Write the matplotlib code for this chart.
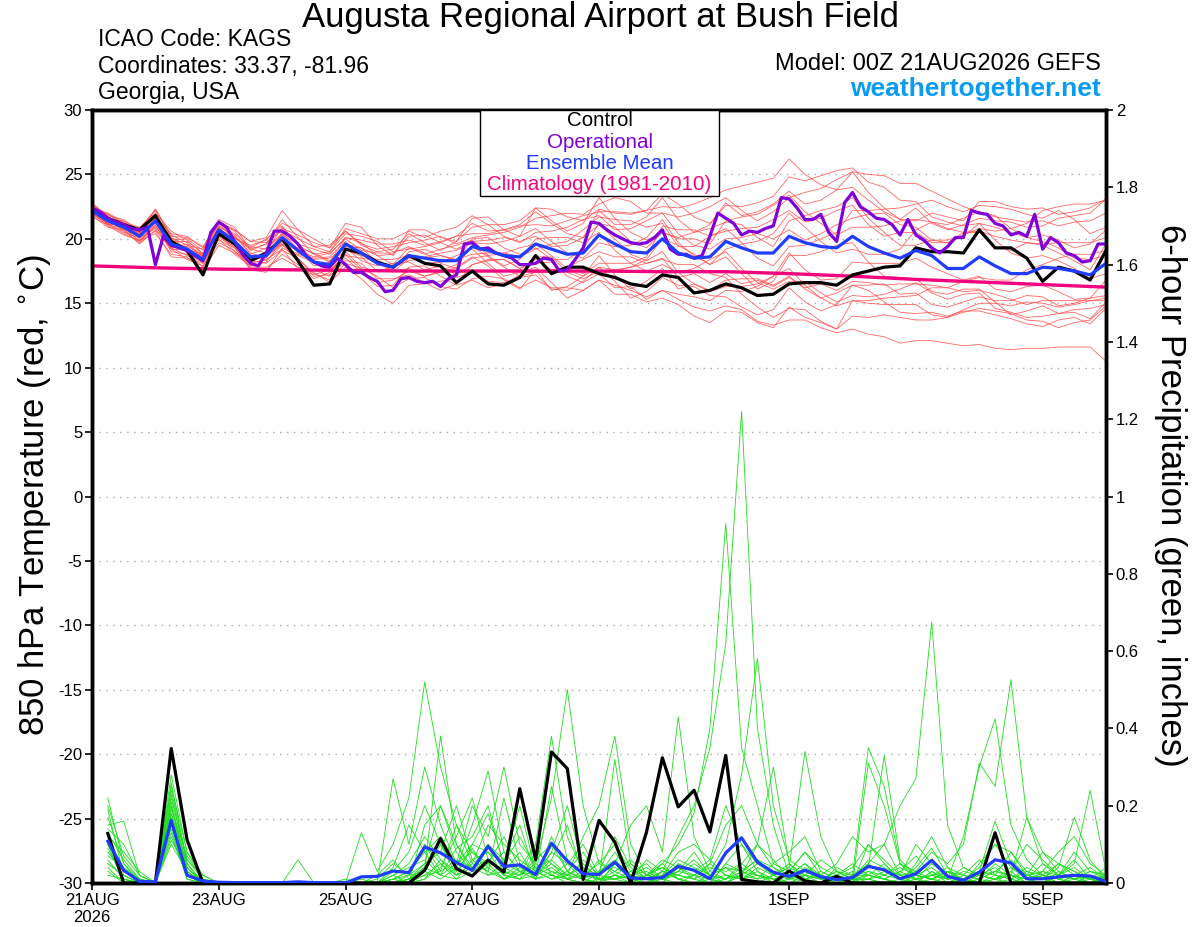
import matplotlib
matplotlib.use("Agg")
import matplotlib.pyplot as plt
from matplotlib.patches import Rectangle
from matplotlib.ticker import FormatStrFormatter
import numpy as np

plt.rcParams['font.family'] = ['Liberation Sans', 'DejaVu Sans']
plt.rcParams['axes.unicode_minus'] = False

# x axis (days after 00Z 21AUG2026)
tick_days = [0, 2, 4, 6, 8, 11, 13, 15]
tick_labels = ["21AUG\n2026", "23AUG", "25AUG", "27AUG", "29AUG", "1SEP", "3SEP", "5SEP"]

# 850 hPa temperature, 6-hourly from 00Z
ctrl_t = [22.3, 21.6, 21.1, 20.7, 21.8, 19.8, 19.1, 17.2, 20.4, 19.6, 18.3, 18.9, 20.0, 18.3, 16.4, 16.5, 19.2, 18.9, 18.2, 17.8, 18.7, 18.1,
          17.9, 16.6, 17.5, 16.5, 16.4, 17.0, 18.7, 17.3, 17.8, 17.8, 17.3, 17.0, 16.5, 16.3, 17.2, 17.0, 15.8, 16.0, 16.5, 16.2, 15.6,
          15.7, 16.5, 16.6, 16.6, 16.4, 17.2, 17.5, 17.8, 17.9, 19.3, 19.0, 19.0, 18.9, 20.7, 19.3, 19.3, 18.5, 16.7, 17.8, 17.5, 16.8, 19.1]
mean_t = [22.2, 21.4, 20.9, 20.2, 21.4, 19.6, 19.2, 18.4, 20.7, 19.8, 18.6, 18.7, 20.1, 19.1, 18.2, 18.0, 19.6, 18.9, 18.1, 17.8,
          18.7, 18.5, 18.3, 18.3, 19.4, 19.1, 18.7, 18.6, 19.6, 19.2, 18.8, 18.9, 20.3, 19.6, 19.0, 18.9, 20.0, 18.9, 18.5, 18.6,
          19.8, 19.3, 18.9, 18.9, 20.2, 19.7, 19.4, 19.3, 20.2, 19.4, 18.9, 18.5, 19.1, 18.7, 17.7, 17.7, 18.6, 17.9, 17.3, 17.3,
          17.8, 17.7, 17.5, 17.2, 18.1]
# operational run, 3-hourly
oper_t = [22.4, 22.1, 21.6, 21.3, 21.1, 20.8, 20.7, 20.9, 18.0, 20.2,
          19.5, 19.3, 19.1, 18.7, 18.3, 20.5, 21.3, 20.9, 19.8, 18.8,
          18.1, 17.9, 18.9, 20.6, 20.6, 20.2, 19.6, 18.7, 18.2, 17.9,
          17.8, 18.5, 18.0, 17.4, 17.4, 17.0, 16.7, 15.9, 16.0, 16.9,
          17.0, 16.7, 16.6, 16.7, 16.3, 16.9, 17.2, 19.6, 19.7, 19.2,
          19.3, 18.9, 18.7, 18.5, 18.0, 18.0, 18.1, 18.5, 18.4, 17.5,
          17.6, 18.4, 19.3, 21.3, 21.2, 20.7, 20.3, 20.0, 19.7, 19.6,
          19.7, 20.1, 20.7, 19.2, 18.8, 18.8, 18.5, 18.7, 20.2, 22.0,
          21.6, 21.2, 20.3, 20.6, 20.5, 20.8, 21.0, 23.2, 23.1, 22.4,
          21.5, 21.5, 21.9, 20.5, 19.8, 22.8, 23.6, 22.5, 22.1, 21.6,
          21.5, 21.1, 20.3, 21.5, 20.3, 19.9, 19.3, 18.9, 19.4, 20.1,
          20.1, 22.2, 22.0, 21.9, 21.2, 21.0, 20.3, 20.5, 20.2, 21.9,
          19.2, 20.1, 19.7, 18.9, 18.7, 18.2, 18.3, 19.6, 19.6]
# climatology, daily
clim_t = [17.9, 17.75, 17.65, 17.6, 17.55, 17.5, 17.5, 17.5, 17.5, 17.45, 17.45, 17.3, 17.1, 16.85, 16.65, 16.45, 16.25]

t_m01 = [22.4, 21.7, 21.0, 20.5, 21.9, 19.8, 19.2, 18.8, 21.0, 20.4, 19.4, 19.2, 20.3, 19.6, 19.2, 18.8, 20.1, 19.9, 19.6, 19.6, 19.9, 19.5, 19.8, 20.2, 20.4, 20.4, 20.7, 21.0, 21.1, 21.0, 21.4, 21.8, 22.1, 22.1, 22.0, 22.2, 22.5, 22.4, 22.7, 23.2, 23.8, 24.1, 24.4, 24.7, 26.2, 25.0, 24.2, 23.8, 24.0, 23.0, 22.1, 21.5, 21.5, 21.3, 20.8, 20.5, 20.6, 20.2, 19.9, 19.7, 19.6, 19.7, 19.7, 19.7, 20.1]
t_m02 = [21.9, 21.2, 20.5, 20.1, 20.8, 19.3, 18.7, 18.2, 19.9, 19.3, 18.3, 18.1, 19.1, 18.5, 17.3, 16.8, 18.1, 17.7, 17.1, 16.2, 16.9, 17.0, 16.3, 16.1, 16.9, 17.1, 16.9, 16.2, 16.8, 16.2, 16.2, 16.0, 16.8, 16.4, 16.0, 15.5, 16.0, 15.3, 14.7, 14.4, 14.8, 14.5, 13.6, 13.3, 13.7, 13.7, 13.1, 12.7, 13.0, 12.6, 12.4, 11.9, 12.1, 12.1, 11.9, 11.7, 11.8, 11.5, 11.4, 11.5, 11.5, 11.6, 11.6, 11.6, 10.5]
t_m03 = [22.6, 21.9, 21.2, 20.8, 22.2, 20.2, 20.1, 19.4, 21.3, 20.7, 19.8, 19.7, 20.8, 20.3, 19.7, 19.3, 20.6, 19.5, 19.0, 19.2, 20.4, 19.7, 19.1, 19.8, 21.6, 21.7, 20.7, 20.2, 22.4, 21.4, 20.6, 21.2, 23.2, 21.6, 20.5, 19.9, 20.5, 20.1, 20.5, 21.1, 22.8, 21.8, 22.1, 22.7, 23.7, 22.7, 23.0, 23.8, 25.2, 23.6, 22.4, 21.5, 22.4, 21.2, 20.7, 21.1, 21.6, 21.4, 21.3, 20.9, 21.0, 21.6, 21.8, 22.0, 23.1]
t_m04 = [22.1, 21.4, 20.7, 19.9, 21.0, 19.5, 19.4, 18.1, 20.2, 19.6, 18.7, 18.3, 19.5, 18.8, 18.4, 18.5, 19.3, 18.3, 17.9, 18.1, 18.2, 17.6, 17.9, 17.2, 18.0, 18.3, 18.4, 17.7, 18.4, 17.6, 17.8, 18.4, 19.0, 18.6, 18.6, 18.1, 18.5, 17.0, 17.3, 16.6, 17.3, 16.5, 16.8, 16.3, 17.0, 16.2, 16.5, 16.0, 16.7, 16.6, 16.4, 16.5, 16.5, 16.4, 16.2, 15.9, 16.0, 15.7, 15.3, 14.9, 15.2, 15.2, 15.2, 15.2, 15.4]
t_m05 = [22.5, 21.5, 21.4, 20.4, 22.3, 20.1, 19.5, 19.2, 21.1, 20.0, 19.5, 19.9, 21.2, 20.7, 20.0, 19.3, 21.2, 20.9, 19.5, 18.7, 20.7, 20.7, 20.1, 19.8, 20.9, 21.1, 21.1, 21.4, 22.4, 22.3, 21.7, 21.4, 22.3, 22.0, 21.9, 22.2, 23.5, 22.7, 21.7, 21.2, 22.6, 22.5, 22.8, 23.3, 24.8, 24.5, 24.9, 25.3, 25.5, 24.4, 24.0, 23.0, 22.9, 21.7, 21.3, 21.0, 21.2, 19.9, 18.9, 18.5, 18.7, 18.3, 17.7, 16.9, 17.3]
t_m06 = [21.8, 20.9, 20.7, 19.6, 20.7, 19.2, 18.4, 17.9, 19.7, 19.1, 17.7, 17.6, 18.8, 18.0, 17.4, 16.6, 17.8, 16.9, 15.7, 15.0, 16.4, 16.5, 16.7, 17.0, 17.4, 16.7, 16.6, 17.0, 17.2, 16.1, 16.0, 16.7, 17.8, 17.6, 17.8, 18.1, 18.4, 18.0, 18.0, 17.3, 17.0, 15.7, 14.7, 13.9, 14.6, 14.5, 13.6, 13.0, 14.0, 13.9, 14.1, 13.9, 13.7, 13.7, 13.9, 14.3, 14.6, 14.4, 14.2, 13.7, 13.6, 13.1, 13.5, 13.7, 14.8]
t_m07 = [22.2, 21.6, 20.8, 20.2, 21.6, 19.3, 19.6, 18.5, 20.9, 20.3, 18.9, 18.5, 20.5, 19.2, 17.9, 18.2, 20.1, 19.7, 18.7, 18.0, 19.3, 18.8, 19.2, 19.5, 19.9, 18.7, 17.9, 18.4, 20.0, 20.1, 20.1, 19.7, 20.5, 19.1, 18.1, 18.6, 21.0, 20.7, 20.7, 20.2, 20.6, 20.8, 20.9, 21.5, 22.2, 21.3, 21.6, 22.2, 22.6, 21.1, 20.2, 20.5, 20.5, 19.7, 19.7, 20.2, 21.2, 20.9, 20.5, 20.1, 20.3, 19.9, 19.3, 19.6, 20.7]
t_m08 = [22.3, 21.1, 21.1, 20.0, 21.2, 20.0, 18.9, 17.8, 20.4, 19.0, 18.2, 18.7, 19.6, 18.2, 16.9, 17.4, 18.7, 18.5, 18.3, 17.5, 17.7, 17.1, 17.4, 17.8, 18.6, 17.9, 16.8, 16.1, 17.6, 16.0, 16.3, 17.1, 18.7, 17.2, 16.1, 16.7, 17.7, 16.1, 16.5, 15.9, 16.3, 16.3, 16.5, 17.1, 17.7, 16.4, 15.4, 14.8, 15.2, 15.0, 14.9, 14.9, 14.9, 14.1, 13.9, 14.5, 15.0, 15.0, 14.8, 15.1, 15.0, 14.7, 14.9, 15.2, 15.2]
t_m09 = [22.7, 21.8, 21.5, 20.6, 21.7, 20.4, 20.2, 19.3, 21.3, 20.1, 19.3, 20.0, 21.0, 19.5, 18.8, 19.0, 20.8, 20.4, 20.0, 20.0, 20.6, 20.1, 20.6, 20.9, 21.8, 21.1, 20.2, 19.7, 20.5, 20.6, 20.9, 21.5, 21.8, 20.7, 20.8, 21.4, 22.0, 21.7, 22.0, 22.5, 23.2, 22.2, 21.4, 22.1, 23.2, 23.6, 23.9, 24.6, 25.2, 25.0, 24.9, 24.3, 24.3, 23.7, 23.1, 22.5, 22.1, 21.7, 21.5, 21.3, 21.4, 21.0, 21.3, 21.4, 22.0]
t_m10 = [22.0, 21.0, 20.3, 19.9, 20.4, 18.8, 18.6, 17.5, 19.5, 18.9, 18.1, 18.4, 19.2, 17.7, 17.2, 17.6, 18.5, 17.4, 16.3, 16.4, 17.8, 17.9, 17.1, 16.4, 16.8, 16.2, 16.5, 17.2, 18.6, 18.6, 17.4, 16.9, 17.5, 17.5, 17.8, 18.4, 20.0, 19.5, 18.8, 18.0, 18.6, 17.3, 16.1, 16.7, 18.7, 18.7, 19.0, 19.5, 19.7, 18.2, 17.1, 17.0, 16.9, 15.9, 15.7, 16.1, 16.1, 15.1, 14.1, 14.4, 14.8, 14.2, 14.5, 14.6, 14.9]
t_m11 = [22.4, 22.0, 21.3, 20.9, 22.0, 20.6, 19.9, 18.8, 21.5, 20.9, 19.2, 19.6, 20.7, 20.0, 19.4, 19.5, 20.6, 19.6, 19.2, 19.4, 19.7, 19.9, 20.2, 19.6, 20.1, 20.3, 20.5, 20.9, 21.6, 21.8, 22.0, 21.9, 22.7, 23.2, 22.9, 22.0, 22.0, 20.4, 19.5, 19.2, 20.0, 20.1, 20.4, 20.0, 20.7, 19.9, 20.4, 21.1, 21.6, 21.9, 22.0, 21.1, 20.9, 19.9, 19.7, 20.5, 20.5, 19.4, 19.1, 19.7, 19.5, 18.9, 18.3, 17.6, 19.6]
t_m12 = [21.7, 21.1, 20.4, 19.8, 21.1, 19.0, 18.8, 18.3, 20.0, 18.8, 17.9, 18.2, 19.9, 18.5, 17.1, 17.2, 19.1, 18.7, 18.4, 18.4, 18.7, 18.1, 18.2, 18.7, 19.2, 18.1, 17.1, 17.4, 17.8, 16.6, 15.4, 16.0, 16.8, 15.7, 15.7, 15.1, 15.4, 14.9, 14.0, 13.5, 14.4, 14.3, 13.5, 13.1, 14.7, 13.9, 13.5, 13.0, 15.2, 15.2, 15.4, 15.5, 15.6, 16.2, 16.2, 16.7, 17.0, 16.8, 16.8, 17.6, 18.0, 18.5, 18.8, 18.8, 19.1]
t_m13 = [22.3, 21.5, 21.2, 20.3, 21.5, 19.7, 19.0, 18.7, 20.7, 20.2, 18.8, 19.3, 20.4, 18.9, 18.5, 18.6, 19.8, 18.6, 17.5, 17.6, 19.0, 19.2, 18.7, 18.3, 20.0, 20.1, 19.3, 18.8, 19.3, 18.4, 18.4, 19.2, 21.2, 20.9, 19.8, 19.3, 20.5, 20.0, 20.0, 19.6, 21.4, 21.7, 21.9, 22.6, 23.4, 22.1, 21.2, 20.3, 20.9, 20.9, 21.0, 21.4, 21.4, 22.0, 21.7, 21.4, 22.9, 22.9, 22.5, 22.3, 22.4, 21.9, 22.1, 22.4, 23.1]
t_m14 = [22.0, 21.3, 20.9, 19.8, 20.9, 19.6, 19.4, 18.8, 20.3, 19.3, 17.8, 17.8, 18.5, 17.8, 17.6, 17.1, 18.3, 18.1, 16.9, 16.9, 17.2, 16.6, 16.0, 16.5, 18.0, 18.4, 18.4, 17.7, 18.1, 18.2, 17.1, 16.6, 17.3, 16.2, 16.3, 15.3, 16.0, 15.7, 15.5, 15.2, 16.0, 15.9, 16.3, 17.1, 18.9, 17.6, 16.8, 16.9, 18.2, 18.1, 18.1, 18.1, 18.5, 17.8, 17.3, 16.8, 17.1, 16.1, 15.9, 16.3, 16.4, 15.9, 15.3, 15.4, 15.6]
t_m15 = [22.8, 21.7, 21.1, 20.7, 22.3, 20.3, 19.7, 18.6, 21.3, 20.7, 19.8, 20.1, 22.2, 20.7, 19.4, 19.0, 20.4, 20.2, 19.8, 19.0, 19.2, 19.4, 19.7, 20.2, 21.2, 20.6, 20.7, 21.1, 22.1, 21.2, 20.4, 20.1, 21.1, 20.0, 18.8, 18.3, 19.0, 17.4, 16.5, 16.0, 16.8, 16.9, 16.9, 16.4, 17.1, 16.1, 15.4, 15.8, 16.4, 16.4, 16.5, 15.7, 15.8, 14.9, 14.7, 15.1, 15.5, 15.2, 15.2, 15.6, 15.5, 14.8, 15.0, 15.4, 16.8]
t_m16 = [22.1, 21.2, 21.0, 20.4, 21.7, 20.1, 19.2, 18.2, 20.9, 19.8, 18.4, 19.0, 20.9, 19.6, 18.3, 17.7, 19.6, 19.3, 18.2, 17.4, 18.5, 18.6, 18.9, 19.1, 19.7, 19.6, 19.8, 20.2, 20.8, 19.8, 18.9, 18.5, 19.7, 19.4, 19.5, 20.1, 21.5, 19.7, 18.7, 18.0, 19.2, 19.6, 19.8, 20.4, 22.0, 20.9, 19.8, 18.9, 19.2, 18.8, 18.8, 19.2, 20.7, 21.3, 21.1, 21.6, 22.1, 21.8, 20.8, 20.1, 19.8, 19.3, 18.5, 18.4, 18.7]
t_m17 = [22.5, 21.9, 21.2, 20.3, 21.3, 19.2, 19.1, 18.7, 20.5, 20.1, 19.2, 18.9, 19.7, 19.3, 18.9, 18.3, 19.0, 17.8, 17.5, 17.8, 18.3, 18.5, 18.7, 18.4, 18.8, 18.9, 18.9, 19.3, 19.6, 18.7, 17.7, 17.3, 18.1, 18.1, 18.1, 17.5, 18.0, 17.4, 17.7, 18.4, 19.0, 17.7, 16.6, 16.1, 16.7, 16.7, 15.8, 15.1, 15.6, 15.5, 15.7, 16.1, 16.6, 15.8, 15.3, 15.7, 15.8, 14.6, 14.3, 13.9, 14.0, 14.2, 14.3, 13.8, 15.1]
t_m18 = [21.9, 21.4, 21.1, 20.5, 21.8, 19.8, 19.8, 18.9, 20.8, 19.6, 18.7, 18.6, 19.6, 19.1, 18.6, 18.9, 20.0, 19.1, 18.9, 18.9, 19.4, 18.9, 18.1, 17.7, 18.5, 18.7, 18.9, 18.6, 19.2, 19.6, 19.8, 20.7, 21.7, 21.5, 21.4, 20.9, 21.2, 19.4, 19.4, 20.2, 20.8, 19.7, 18.5, 17.9, 19.4, 19.5, 20.0, 20.5, 22.2, 22.2, 22.3, 22.4, 22.7, 23.0, 22.5, 22.1, 22.6, 22.5, 22.3, 21.9, 21.6, 22.2, 21.5, 20.4, 20.9]
t_m19 = [22.6, 21.5, 20.6, 19.7, 20.6, 18.6, 18.5, 18.1, 20.1, 19.4, 17.6, 17.4, 19.3, 18.7, 18.2, 17.5, 18.8, 17.6, 16.6, 16.8, 17.5, 17.1, 17.5, 18.0, 19.4, 18.6, 17.8, 17.1, 17.4, 17.4, 17.6, 17.1, 17.8, 16.7, 15.4, 15.9, 17.0, 16.4, 16.3, 15.6, 15.5, 14.7, 14.1, 14.5, 16.2, 15.1, 14.4, 14.9, 16.4, 16.0, 15.1, 14.3, 14.2, 14.3, 14.0, 14.4, 14.4, 14.1, 13.8, 13.4, 13.2, 13.7, 13.9, 13.4, 14.6]
t_m20 = [22.2, 21.1, 20.8, 20.6, 21.6, 19.9, 20.0, 19.1, 21.2, 20.6, 19.1, 19.6, 21.5, 20.1, 18.8, 18.2, 19.4, 19.3, 18.7, 18.8, 20.2, 20.3, 19.7, 19.2, 19.8, 19.9, 20.1, 19.8, 20.2, 19.4, 19.5, 20.1, 22.2, 21.1, 21.1, 21.7, 23.2, 21.5, 20.5, 20.8, 21.3, 21.1, 20.1, 19.4, 21.4, 21.8, 22.2, 22.5, 23.2, 21.6, 20.5, 19.5, 19.5, 19.9, 19.9, 20.3, 20.8, 20.6, 20.8, 21.2, 22.2, 22.5, 22.7, 22.7, 23.0]
members_t = [t_m01, t_m02, t_m03, t_m04, t_m05, t_m06, t_m07, t_m08, t_m09, t_m10,
             t_m11, t_m12, t_m13, t_m14, t_m15, t_m16, t_m17, t_m18, t_m19, t_m20]

# 6-hour precipitation (inches), valid 06Z 21AUG onward
ctrl_p = [.128, 0, 0, 0, .348, .112, 0, 0, 0, 0, 0, 0, 0, 0, 0, 0,
          0, 0, 0, 0, .033, .115, .037, .018, .059, .028, .244, .060, .339, .296, .009, .162,
          .106, 0, .132, .324, .197, .240, .132, .330, .009, .003, 0, .031, .005, 0, .017, 0,
          0, 0, 0, 0, 0, 0, 0, 0, .130, 0, 0, 0, 0, 0, 0, 0]
mean_p = [.108, .033, .004, .003, .162, .020, .005, .002, .001, .001, .001, .001, .003, .001, .001, 0,
          .016, .017, .031, .027, .093, .078, .053, .033, .095, .043, .047, .022, .103, .057, .024, .022,
          .054, .013, .011, .014, .043, .033, .011, .078, .117, .054, .028, .017, .033, .016, .009, .014,
          .043, .034, .011, .024, .059, .017, .007, .028, .060, .052, .011, .011, .016, .020, .018, .004]

p_m01 = [.22, .05, 0, 0, .18, .03, 0, 0, 0, 0, 0, 0, 0, 0, 0, 0, 0, 0, .02, .05, .12, .06, .02, .10, .18, .05, .03, .01, .08, .20, .04, 0, .05, .01, 0, .03, .12, .20, .35, .62, 1.22, .40, .15, .02, .05, .01, 0, .02, .05, .10, .02, 0, .03, 0, 0, .01, .05, .02, 0, 0, .03, .01, 0, 0]
p_m02 = [.15, .16, .02, 0, .25, .08, .01, 0, 0, 0, 0, 0, 0, 0, 0, 0, 0, 0, 0, .01, .05, .20, .08, .03, .10, .06, .15, .02, .05, .01, 0, .03, .12, .04, .01, .05, .10, .18, .40, .93, .35, .20, .05, .08, .12, .03, .01, 0, .10, .05, .01, .04, .09, .02, 0, .05, .10, .04, .01, 0, .02, .06, .01, 0]
p_m03 = [.19, .02, 0, 0, .20, .04, 0, 0, 0, 0, 0, 0, .06, 0, 0, 0, .13, .03, .10, .22, .52, .30, .15, .05, .03, .01, .04, .10, .02, 0, 0, .01, 0, 0, .02, .04, .01, 0, 0, .05, .10, .03, 0, .01, .04, .02, 0, 0, .31, .20, .05, .01, 0, .02, .01, 0, 0, .01, .03, .02, 0, 0, .01, 0]
p_m04 = [.12, .08, .03, 0, .22, .06, .02, 0, 0, 0, 0, 0, 0, 0, 0, 0, 0, 0, .01, .03, .08, .12, .05, .20, .12, .30, .10, .05, .22, .50, .20, .05, .10, .03, .01, 0, .04, .02, 0, .01, .03, .06, .02, 0, .02, 0, .01, 0, .03, .01, 0, .05, .12, .04, 0, 0, .02, .08, .03, .01, 0, .02, .04, .01]
p_m05 = [.10, 0, 0, 0, .15, .02, 0, 0, 0, 0, 0, 0, 0, 0, 0, 0, 0, 0, 0, 0, .02, .05, .01, .06, .08, .02, .05, .01, .12, .03, .01, .03, .06, .02, 0, .01, .03, .08, .02, 0, .02, .10, .06, .01, .03, .02, .05, .12, .08, .10, .20, .27, .675, .15, .04, .02, .01, .03, 0, .02, .05, .03, .01, 0]
p_m06 = [.08, .03, .01, 0, .18, .05, 0, 0, 0, 0, 0, 0, 0, 0, 0, 0, 0, .01, .05, .02, .10, .03, .15, .08, .05, .12, .04, .02, .08, .05, .01, 0, .02, 0, 0, .03, .02, .01, .05, .02, .01, .04, .02, .05, .01, 0, .02, .04, .10, .06, .02, .03, .08, .05, .10, .31, .25, .526, .17, .05, .02, .01, .03, .02]
p_m07 = [.06, .01, 0, 0, .12, .02, 0, 0, 0, 0, 0, 0, 0, 0, 0, 0, .01, 0, .03, .08, .20, .10, .04, .15, .29, .08, .03, .01, .02, .05, .10, .02, .01, .03, .05, .01, 0, .02, .04, .03, .05, .02, 0, .03, .08, .04, .02, 0, .02, .01, 0, .02, .04, .01, .12, .30, .425, .15, .06, .02, .01, 0, .02, 0]
p_m08 = [.04, 0, 0, 0, .24, .06, .01, 0, 0, 0, 0, 0, 0, 0, 0, 0, 0, 0, .02, .04, .06, .02, .09, .12, .20, .04, .02, .06, .10, .03, .01, 0, .05, .15, .20, .08, .43, .12, .03, .01, .02, .05, .03, .01, .02, .06, .03, .01, .01, 0, 0, .01, .02, .04, .02, .01, 0, .03, .10, .06, .02, .04, .01, 0]
p_m09 = [.17, .05, .01, 0, .20, .03, 0, 0, 0, 0, 0, 0, 0, 0, 0, 0, 0, .02, .06, .01, .04, .38, .10, .04, .06, .02, .01, .08, .05, .02, .12, .20, .38, .10, .02, .01, .05, .03, .01, 0, .03, .01, .02, .04, .34, .12, .03, .01, .02, .05, .01, 0, .03, .01, 0, .02, .04, .01, 0, .03, .08, .12, .05, .02]
p_m10 = [.09, .01, 0, 0, .16, .02, 0, 0, 0, 0, 0, 0, 0, 0, 0, 0, 0, 0, .27, .10, .30, .15, .05, .08, .04, .01, .02, .10, .38, .12, .03, .01, .02, .01, .06, .03, .01, 0, .02, .04, .01, .03, .01, .02, .01, 0, .04, .02, .35, .25, .05, .02, .01, 0, .01, .03, .02, .01, .04, .02, 0, .01, .03, .01]
p_m11 = [.05, .02, 0, 0, .28, .08, .02, 0, 0, 0, 0, 0, 0, 0, 0, 0, 0, 0, .01, .02, .05, .08, .20, .06, .03, .22, .05, .02, .06, .02, .05, .01, .32, .05, .02, .01, .03, .06, .02, .01, .05, .10, .30, .05, .02, .01, .03, .01, .04, .33, .06, .02, .01, .03, .02, .01, .03, .06, .02, .01, .05, .03, .01, .02]
p_m12 = [.03, 0, 0, 0, .21, .04, 0, 0, 0, 0, 0, 0, 0, 0, 0, 0, 0, 0, 0, .01, .03, .10, .02, .05, .15, .10, .06, .03, .01, .02, .04, .02, .01, 0, .02, .06, .04, .01, .03, .10, .28, .58, .20, .06, .03, .01, .02, .05, .02, .01, .03, .07, .02, .01, .04, .02, .01, .02, .17, .08, .03, .01, 0, .02]
p_m13 = [.14, .10, .02, 0, .13, .01, 0, 0, 0, 0, 0, 0, 0, 0, 0, 0, 0, 0, 0, 0, .01, .04, .12, .22, .06, .03, .01, .04, .02, .01, 0, .03, .04, .02, .01, 0, .05, .03, .06, .02, .01, .02, .01, .02, .05, .02, 0, .01, .06, .04, .02, .10, .05, .02, .01, .04, .10, .08, .02, .01, .04, .17, .06, .01]
p_m14 = [.07, .04, .01, 0, .19, .07, .01, 0, 0, 0, 0, 0, 0, 0, 0, .01, 0, 0, .04, .15, .08, .02, .05, .10, .08, .05, .12, .04, .06, .15, .02, .01, .03, .06, .02, .04, .02, .01, 0, .05, .03, .06, .04, .01, .01, .03, .01, 0, .01, .02, .05, .03, .01, 0, .02, .06, .02, .01, 0, .03, .02, .05, .24, .03]
p_m15 = [.11, .01, 0, 0, .23, .05, 0, 0, 0, 0, 0, 0, 0, 0, 0, 0, 0, 0, .01, 0, .15, .20, .10, .03, .04, .08, .03, .02, .25, .06, .02, .01, .02, .01, 0, .02, .06, .04, .02, .01, .04, .02, .01, 0, .02, .01, .01, .03, .02, .01, 0, .01, .02, .03, .01, 0, .01, .04, .02, .08, .05, .02, .01, 0]
p_m16 = [.02, .01, 0, 0, .17, .02, 0, 0, 0, 0, 0, 0, 0, 0, 0, 0, 0, 0, 0, .01, .02, .03, .06, .04, .10, .03, .02, .05, .03, .01, .06, .02, .08, .02, .01, .03, .01, .02, .05, .15, .20, .10, .04, .02, .01, 0, 0, .02, .03, .02, .01, 0, .01, .02, .01, .03, .16, .05, .02, .01, 0, .02, .01, .04]
p_m17 = [.13, .06, .01, 0, .10, .03, 0, 0, 0, 0, 0, 0, 0, 0, 0, 0, 0, 0, .02, 0, .01, .06, .03, .09, .02, .05, .20, .03, .01, .03, .08, .01, .01, .02, .04, .01, .03, .02, .01, 0, .02, .01, .05, .03, .08, .02, .01, 0, .05, .02, .04, .02, .01, .03, 0, .01, .03, .02, .01, .02, .01, 0, .02, .01]
p_m18 = [.05, .02, 0, 0, .14, .01, 0, 0, 0, 0, 0, 0, 0, 0, 0, 0, 0, 0, 0, .01, .04, .02, .01, .03, .06, .02, .01, .02, .04, .01, .02, .05, .03, .01, .02, .05, .01, 0, .01, .02, .01, 0, .02, .01, .03, .01, .02, .01, .01, .03, .02, .01, .02, .01, .03, .02, .01, 0, .02, .03, .01, .02, 0, .01]
p_m19 = [.20, .07, .02, 0, .26, .05, 0, 0, 0, 0, 0, 0, 0, 0, 0, 0, 0, 0, .01, .03, .10, .05, .02, .04, .02, .03, .08, .01, .03, .02, .01, .06, .02, .05, .01, .02, .08, .10, .06, .20, .10, .05, .02, .04, .02, .01, .03, .02, .02, .01, .03, .01, .05, .02, .01, .02, .03, .02, .01, .05, .02, .08, .03, .02]
p_m20 = [.10, .03, .01, 0, .11, .04, 0, 0, 0, 0, 0, 0, 0, 0, 0, 0, 0, 0, 0, .02, .03, .01, .04, .02, .05, .01, .03, .04, .02, .01, .03, .01, .01, .02, .03, .01, .02, .05, .02, .04, .03, .02, .01, 0, .01, .02, .01, .01, .01, 0, .01, .02, .01, .03, .01, 0, .01, .02, .01, 0, .02, .01, .02, .01]
members_p = [p_m01, p_m02, p_m03, p_m04, p_m05, p_m06, p_m07, p_m08, p_m09, p_m10,
             p_m11, p_m12, p_m13, p_m14, p_m15, p_m16, p_m17, p_m18, p_m19, p_m20]

# time coordinates in days
x_t = np.arange(len(mean_t)) / 4.0
x_op = np.arange(len(oper_t)) / 8.0
x_p = (np.arange(len(mean_p)) + 1) / 4.0
x_clim = np.arange(len(clim_t))

RED = '#ff4a4a'
GREEN = '#1edc1e'
PURPLE = '#7f00d9'
BLUE = '#1f3cff'
PINK = '#f0047f'

fig = plt.figure(figsize=(12, 9.27), dpi=100)
ax = fig.add_axes([92/1200, 1 - 883/927, 1014/1200, 773/927])
ax2 = ax.twinx()

# dotted grid at temperature ticks
for v in range(-25, 30, 5):
    ax.axhline(v, color='#a8a8a8', lw=1.0, ls=(0, (1, 4)), zorder=0.5)

for m in members_t:
    ax.plot(x_t, m, color=RED, lw=0.6, alpha=0.85, zorder=1)
ax.plot(x_clim, clim_t, color=PINK, lw=2.4, zorder=2)
ax.plot(x_t, ctrl_t, color='black', lw=2.3, zorder=3)
ax.plot(x_op, oper_t, color=PURPLE, lw=2.3, zorder=4)
ax.plot(x_t, mean_t, color=BLUE, lw=2.3, zorder=5)

for m in members_p:
    ax2.plot(x_p, m, color=GREEN, lw=0.6, zorder=1)
ax2.plot(x_p, ctrl_p, color='black', lw=2.3, zorder=3)
ax2.plot(x_p, mean_p, color=BLUE, lw=2.3, zorder=4)

ax.set_xlim(0, 16)
ax.set_ylim(-30, 30)
ax2.set_ylim(0, 2)
ax.set_yticks(range(-30, 31, 5))
ax2.set_yticks(np.arange(0, 2.01, 0.2))
ax2.yaxis.set_major_formatter(FormatStrFormatter('%g'))
ax.set_xticks(tick_days)
ax.set_xticklabels(tick_labels)

for a in (ax, ax2):
    for s in a.spines.values():
        s.set_linewidth(2.5)
    a.tick_params(direction='out', length=5, width=1.2, labelsize=12, pad=2)

# legend box
ax2.add_patch(Rectangle((0.3826, 0.8887), 0.2357, 0.1113, transform=ax2.transAxes,
                        facecolor='white', edgecolor='black', lw=1.0, zorder=10, clip_on=False))
leg = [("Control", 'black', 0.9858), ("Operational", PURPLE, 0.9586),
       ("Ensemble Mean", BLUE, 0.9314), ("Climatology (1981-2010)", PINK, 0.9030)]
for txt, col, yy in leg:
    ax2.text(0.5005, yy, txt, color=col, fontsize=14.8, ha='center', va='center',
             transform=ax2.transAxes, zorder=11)

# header
fig.text(0.5, 1 - 18/927, "Augusta Regional Airport at Bush Field", fontsize=25, ha='center', va='center')
fig.text(98/1200, 1 - 40/927, "ICAO Code: KAGS", fontsize=16.5, ha='left', va='center')
fig.text(98/1200, 1 - 66/927, "Coordinates: 33.37, -81.96", fontsize=16.5, ha='left', va='center')
fig.text(98/1200, 1 - 92/927, "Georgia, USA", fontsize=16.5, ha='left', va='center')
fig.text(1101/1200, 1 - 64/927, "Model: 00Z 21AUG2026 GEFS", fontsize=17, ha='right', va='center')
fig.text(1101/1200, 1 - 89/927, "weathertogether.net", fontsize=19, fontweight='bold',
         color='#0a9cf5', ha='right', va='center')

# axis titles
fig.text(35/1200, 1 - 495/927, "850 hPa Temperature (red, $^{\\circ}$C)", fontsize=25,
         rotation=90, ha='center', va='center')
fig.text(1170/1200, 1 - 495/927, "6-hour Precipitation (green, inches)", fontsize=25,
         rotation=-90, ha='center', va='center')

fig.savefig('out.png', dpi=100)
